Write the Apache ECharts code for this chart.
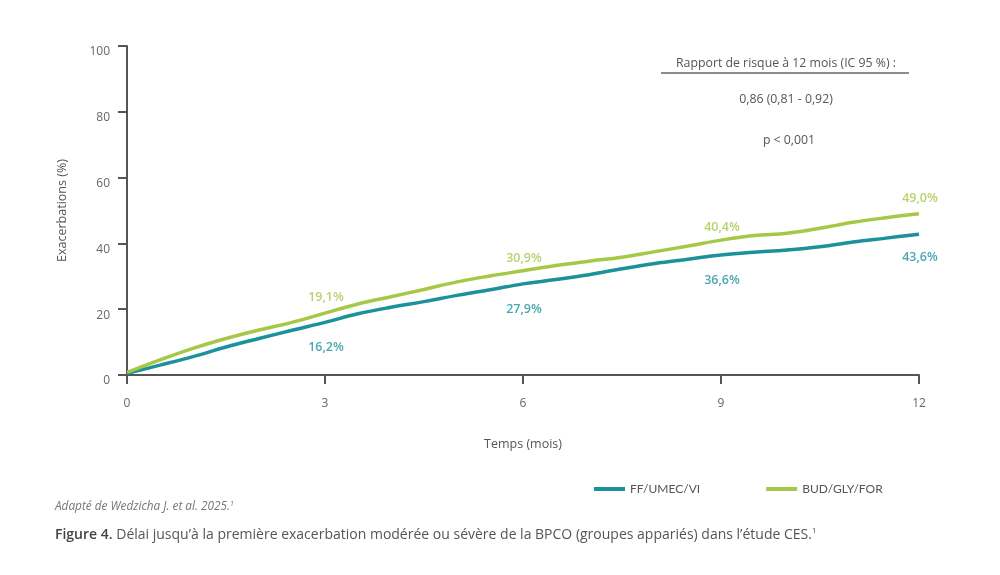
<!DOCTYPE html>
<html>
<head>
<meta charset="utf-8">
<script src="https://cdn.jsdelivr.net/npm/echarts@6/dist/echarts.min.js"></script>
<style>
  html, body { margin: 0; padding: 0; background: #fff; }
  #chart { width: 1000px; height: 575px; }
</style>
</head>
<body>
<div id="chart"></div>
<script>
// mois
var months = [0, 0.5, 1, 1.5, 2, 2.5, 3, 3.5, 4, 4.5, 5, 5.5, 6, 6.5, 7, 7.5, 8, 8.5, 9, 9.5, 10, 10.5, 11, 11.5, 12];
// courbes (%)
var ffUmecVi = [0.5, 3.0, 5.6, 8.5, 11.1, 13.6, 16.0, 18.6, 20.6, 22.3, 24.2, 25.9, 27.7, 29.0, 30.5, 32.3, 33.9, 35.2, 36.5, 37.3, 38.0, 39.0, 40.4, 41.6, 42.8];
var budGlyFor = [0.8, 4.6, 8.1, 11.1, 13.7, 16.0, 18.8, 21.6, 23.8, 26.0, 28.3, 30.1, 31.7, 33.3, 34.6, 35.8, 37.5, 39.2, 41.0, 42.4, 43.1, 44.6, 46.4, 47.8, 49.0];
// valeurs annoncées
var labelMonths = [3, 6, 9, 12];
var ffLabels = [16.2, 27.9, 36.6, 43.6];
var budLabels = [19.1, 30.9, 40.4, 49.0];
var xTicks = [0, 3, 6, 9, 12];

var teal = '#1b929b';
var green = '#a6c847';
var grey = '#666';
var font = 'Open Sans';

function pairs(xs, ys) {
    var arr = [];
    for (var i = 0; i < xs.length; i++) {
        arr.push([xs[i], ys[i]]);
    }
    return arr;
}

function pct(v) {
    return v.toFixed(1).replace('.', ',') + '%';
}

var myChart = echarts.init(document.getElementById('chart'));

var option = {
    animation: false,
    textStyle: { fontFamily: font },
    grid: { left: 127, right: 81, top: 46, bottom: 200 },
    legend: {
        left: 589,
        top: 478,
        itemWidth: 31,
        itemHeight: 4,
        itemGap: 66,
        icon: 'rect',
        textStyle: { color: '#555', fontSize: 12, fontFamily: 'Lato' },
        data: ['FF/UMEC/VI', 'BUD/GLY/FOR']
    },
    xAxis: {
        type: 'value',
        min: 0,
        max: 12,
        interval: 3,
        name: 'Temps (mois)',
        nameLocation: 'middle',
        nameGap: 63,
        nameTextStyle: { color: '#555', fontSize: 12.5 },
        axisLine: { show: true, lineStyle: { color: '#555', width: 2 } },
        axisTick: { show: true, length: 9, lineStyle: { color: '#555', width: 2 } },
        axisLabel: { color: grey, fontSize: 12, margin: 23, customValues: xTicks },
        splitLine: { show: false }
    },
    yAxis: {
        type: 'value',
        min: 0,
        max: 100,
        interval: 20,
        name: 'Exacerbations (%)',
        nameLocation: 'middle',
        nameRotate: 90,
        nameGap: 58,
        nameTextStyle: { color: '#555', fontSize: 12.5 },
        axisLine: { show: true, lineStyle: { color: '#555', width: 2 } },
        axisTick: { show: true, length: 9, lineStyle: { color: '#555', width: 2 } },
        axisLabel: { color: grey, fontSize: 12, margin: 17, verticalAlign: 'top' },
        splitLine: { show: false }
    },
    series: [
        {
            name: 'FF/UMEC/VI',
            type: 'line',
            smooth: 0.4,
            symbol: 'none',
            color: teal,
            lineStyle: { width: 3.5, color: teal },
            data: pairs(months, ffUmecVi),
            z: 3
        },
        {
            name: 'BUD/GLY/FOR',
            type: 'line',
            smooth: 0.4,
            symbol: 'none',
            color: green,
            lineStyle: { width: 3.5, color: green },
            data: pairs(months, budGlyFor),
            z: 4
        },
        {
            name: 'ffLabels',
            type: 'scatter',
            symbolSize: 0,
            silent: true,
            data: pairs(labelMonths, ffLabels),
            label: {
                show: true,
                position: 'inside',
                offset: [1, 26],
                color: teal,
                fontWeight: 600,
                fontSize: 12.5,
                formatter: function (p) { return pct(p.value[1]); }
            }
        },
        {
            name: 'budLabels',
            type: 'scatter',
            symbolSize: 0,
            silent: true,
            data: pairs(labelMonths, budLabels),
            label: {
                show: true,
                position: 'inside',
                offset: [1, -15],
                color: green,
                fontWeight: 600,
                fontSize: 12.5,
                formatter: function (p) { return pct(p.value[1]); }
            }
        }
    ],
    graphic: [
        {
            type: 'text', style: {
                x: 786, y: 63, text: 'Rapport de risque à 12 mois (IC 95 %) :',
                align: 'center', verticalAlign: 'middle',
                fill: '#555', font: '12.3px "Open Sans"'
            }
        },
        {
            type: 'line',
            shape: { x1: 661, y1: 73, x2: 909, y2: 73 },
            style: { stroke: '#666', lineWidth: 1.5 }
        },
        {
            type: 'text', style: {
                x: 786, y: 99, text: '0,86 (0,81 - 0,92)',
                align: 'center', verticalAlign: 'middle',
                fill: '#555', font: '12.3px "Open Sans"'
            }
        },
        {
            type: 'text', style: {
                x: 789, y: 140, text: 'p < 0,001',
                align: 'center', verticalAlign: 'middle',
                fill: '#555', font: '12.3px "Open Sans"'
            }
        },
        {
            type: 'text', style: {
                x: 55, y: 507, text: 'Adapté de Wedzicha J. et al. 2025.{s|1}',
                verticalAlign: 'middle',
                fill: '#777', font: 'italic 11.8px "Open Sans"',
                rich: {
                    s: { fill: '#777', font: 'italic 7px "Open Sans"', verticalAlign: 'top', padding: [0, 0, 6, 0] }
                }
            }
        },
        {
            type: 'text', style: {
                x: 55, y: 535,
                text: '{b|Figure 4.} Délai jusqu\u2019à la première exacerbation modérée ou sévère de la BPCO (groupes appariés) dans l\u2019étude CES.{s|1}',
                verticalAlign: 'middle',
                fill: '#555', font: '14px "Open Sans"',
                rich: {
                    b: { fill: '#444', font: '600 14px "Open Sans"' },
                    s: { fill: '#555', font: '8px "Open Sans"', padding: [0, 0, 8, 0] }
                }
            }
        }
    ]
};

myChart.setOption(option);
</script>
</body>
</html>
